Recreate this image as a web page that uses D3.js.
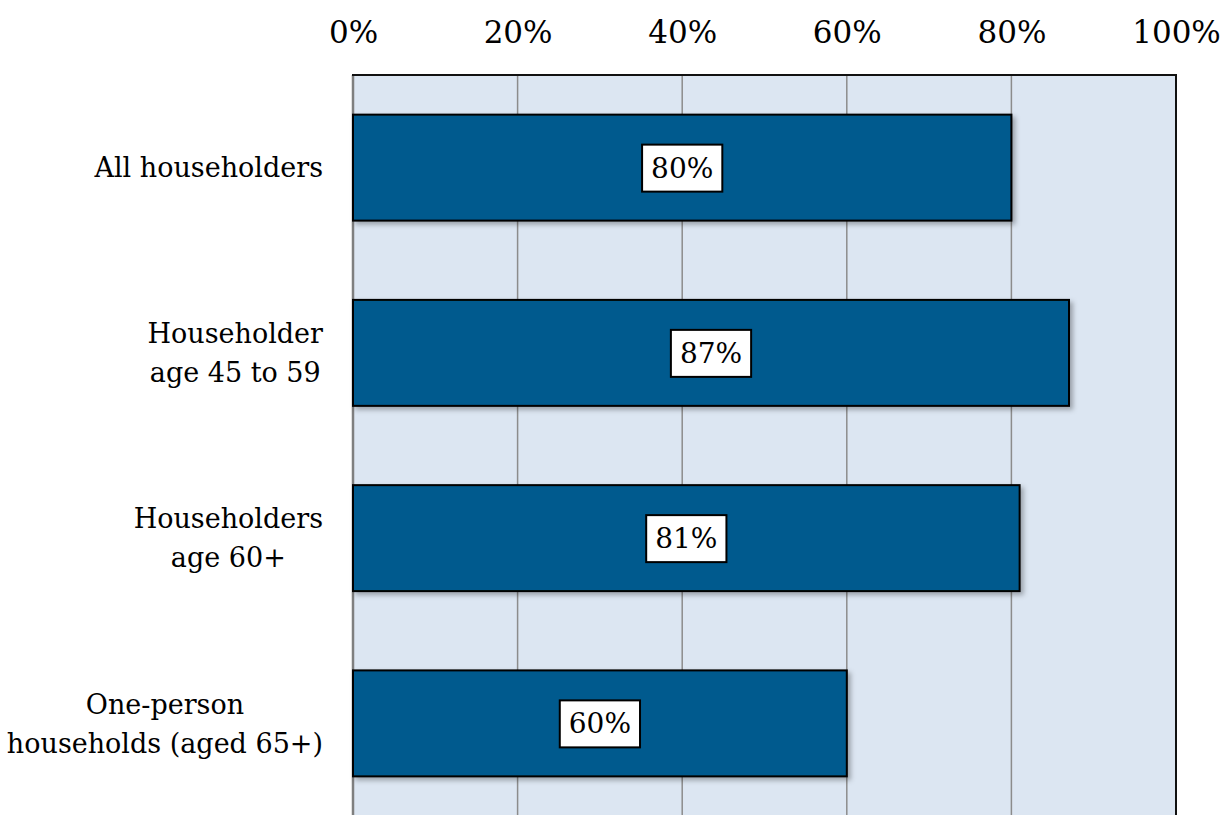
<!DOCTYPE html>
<html lang="en">
<head>
<meta charset="UTF-8">
<title>Households bar chart</title>
<script src="https://cdnjs.cloudflare.com/ajax/libs/d3/7.8.5/d3.min.js"></script>
<style>
    body { margin: 0; background: #ffffff; }
    svg text { font-family: "DejaVu Serif", "Liberation Serif", serif; fill: #000; }
</style>
</head>
<body>
<div id="chart"></div>
<script>
    // data
    const categories = [
        ["All householders"],
        ["Householder", "age 45 to 59"],
        ["Householders", "age 60+"],
        ["One-person", "households (aged 65+)"]
    ];
    const values = [80, 87, 81, 60];
    const ticks = [0, 20, 40, 60, 80, 100];

    const width = 1231, height = 815;
    const plot = {left: 353, right: 1176, top: 75, bottom: 816};

    const svg = d3.select("#chart").append("svg")
        .attr("width", width)
        .attr("height", height);

    const defs = svg.append("defs");
    const f = defs.append("filter").attr("id", "shadow")
        .attr("x", "-5%").attr("y", "-10%").attr("width", "115%").attr("height", "130%");
    f.append("feDropShadow")
        .attr("dx", 3).attr("dy", 3).attr("stdDeviation", 2.5)
        .attr("flood-color", "#000").attr("flood-opacity", 0.3);

    const x = d3.scaleLinear().domain([0, 100]).range([plot.left, plot.right]);
    const y = d3.scaleBand()
        .domain(d3.range(values.length))
        .range([plot.top, plot.bottom])
        .paddingInner(0.428)
        .paddingOuter(0.214);

    // background
    svg.append("rect")
        .attr("x", plot.left).attr("y", plot.top)
        .attr("width", plot.right - plot.left)
        .attr("height", plot.bottom - plot.top)
        .attr("fill", "#dce6f2");

    // grid
    svg.append("g").selectAll("line")
        .data(ticks.slice(1, -1))
        .join("line")
        .attr("x1", d => x(d)).attr("x2", d => x(d))
        .attr("y1", plot.top).attr("y2", plot.bottom)
        .attr("stroke", "#8c8c8c").attr("stroke-width", 1.5);

    // top axis
    const axis = svg.append("g")
        .attr("transform", `translate(0,${plot.top})`)
        .call(d3.axisTop(x).tickValues(ticks).tickFormat(d => d + "%").tickSize(0).tickPadding(32));
    axis.select(".domain").remove();
    axis.selectAll("text").style("font-size", "31px");

    // frame
    svg.append("line")
        .attr("x1", plot.left).attr("x2", plot.left)
        .attr("y1", plot.top).attr("y2", plot.bottom)
        .attr("stroke", "#7f7f7f").attr("stroke-width", 2.5);
    svg.append("line")
        .attr("x1", plot.right).attr("x2", plot.right)
        .attr("y1", plot.top).attr("y2", plot.bottom)
        .attr("stroke", "#111").attr("stroke-width", 2);
    svg.append("line")
        .attr("x1", plot.left - 1).attr("x2", plot.right + 1)
        .attr("y1", plot.top).attr("y2", plot.top)
        .attr("stroke", "#111").attr("stroke-width", 2);

    // bars
    svg.append("g").selectAll("rect")
        .data(values)
        .join("rect")
        .attr("x", x(0))
        .attr("y", (d, i) => y(i))
        .attr("width", d => x(d) - x(0))
        .attr("height", y.bandwidth())
        .attr("fill", "#005a8e")
        .attr("stroke", "#000")
        .attr("stroke-width", 2)
        .attr("filter", "url(#shadow)");

    // value labels
    const lab = svg.append("g").selectAll("g")
        .data(values)
        .join("g")
        .attr("transform", (d, i) => `translate(${x(d / 2)},${y(i) + y.bandwidth() / 2})`);
    lab.append("text")
        .attr("text-anchor", "middle")
        .attr("dy", "0.36em")
        .style("font-size", "28px")
        .text(d => d + "%");
    lab.each(function () {
        const g = d3.select(this);
        const b = g.select("text").node().getBBox();
        g.insert("rect", "text")
            .attr("x", b.x - 9).attr("y", -23)
            .attr("width", b.width + 18).attr("height", 47)
            .attr("fill", "#fff").attr("stroke", "#000").attr("stroke-width", 2);
    });

    // category labels
    const lineH = 39;
    const catG = svg.append("g").selectAll("g")
        .data(categories)
        .join("g");
    catG.each(function (lines, i) {
        const g = d3.select(this);
        const cy = y(i) + y.bandwidth() / 2;
        const t = g.selectAll("text").data(lines).join("text")
            .style("font-size", "27px")
            .attr("text-anchor", "middle")
            .attr("dy", "0.36em")
            .attr("y", (d, k) => cy + (k - (lines.length - 1) / 2) * lineH)
            .text(d => d);
        const maxW = d3.max(t.nodes(), n => n.getComputedTextLength());
        t.attr("x", 323 - maxW / 2);
    });
</script>
</body>
</html>
